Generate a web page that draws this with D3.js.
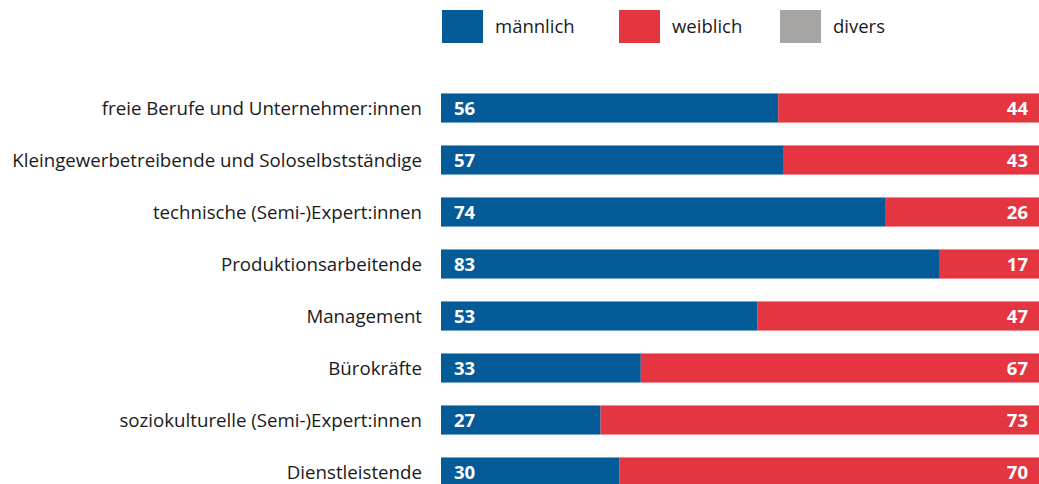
<!DOCTYPE html>
<html>
<head>
<meta charset="utf-8">
<script src="https://cdn.jsdelivr.net/npm/d3@7"></script>
<style>
  body { margin: 0; background: #fff; }
  svg { display: block; }
</style>
</head>
<body>
<div id="chart"></div>
<script>
var categories = [
  "freie Berufe und Unternehmer:innen",
  "Kleingewerbetreibende und Soloselbstständige",
  "technische (Semi-)Expert:innen",
  "Produktionsarbeitende",
  "Management",
  "Bürokräfte",
  "soziokulturelle (Semi-)Expert:innen",
  "Dienstleistende"
];
// shares in % (labels are rounded)
var maennlich = [56.2, 57, 74, 83, 52.7, 33.3, 26.6, 29.7];
var weiblich = [43.8, 43, 26, 17, 47.3, 66.7, 73.4, 70.3];
var divers = [0, 0, 0, 0, 0, 0, 0, 0];
var seriesNames = ["männlich", "weiblich", "divers"];

var colors = ["#045b98", "#e53540", "#a6a5a4"];
var W = 1039, H = 484;
var font = "'Open Sans', 'Noto Sans', sans-serif";

var svg = d3.select("#chart").append("svg")
  .attr("width", W)
  .attr("height", H);

var x = d3.scaleLinear().domain([0, 100]).range([441, 1041]);
var y = d3.scaleBand().domain(categories).range([82, 498]).paddingInner(0.44).paddingOuter(0.22);

// stacked data
var rows = categories.map(function(c, i) {
  return { cat: c, m: maennlich[i], w: weiblich[i], d: divers[i] };
});
var stack = d3.stack().keys(["m", "w", "d"]);
var layers = stack(rows);

var g = svg.append("g");
g.selectAll("g.layer")
  .data(layers)
  .enter()
  .append("g")
  .attr("fill", function(d, i) { return colors[i]; })
  .selectAll("rect")
  .data(function(d) { return d; })
  .enter()
  .append("rect")
  .attr("x", function(d) { return x(d[0]); })
  .attr("y", function(d) { return y(d.data.cat); })
  .attr("width", function(d) { return x(d[1]) - x(d[0]); })
  .attr("height", y.bandwidth());

// category labels
g.selectAll("text.cat")
  .data(categories)
  .enter()
  .append("text")
  .attr("class", "cat")
  .attr("x", 422)
  .attr("y", function(d) { return y(d) + y.bandwidth() / 2; })
  .attr("dy", "0.35em")
  .attr("text-anchor", "end")
  .attr("font-family", font)
  .attr("font-size", "18.7px")
  .attr("fill", "#1a1a1a")
  .text(function(d) { return d; });

// value labels
g.selectAll("text.vm")
  .data(rows)
  .enter()
  .append("text")
  .attr("x", x(0) + 13)
  .attr("y", function(d) { return y(d.cat) + y.bandwidth() / 2; })
  .attr("dy", "0.36em")
  .attr("font-family", font)
  .attr("font-weight", "bold")
  .attr("font-size", "18.5px")
  .attr("fill", "#fff")
  .text(function(d) { return Math.round(d.m); });

g.selectAll("text.vw")
  .data(rows)
  .enter()
  .append("text")
  .attr("x", 1028)
  .attr("y", function(d) { return y(d.cat) + y.bandwidth() / 2; })
  .attr("dy", "0.36em")
  .attr("text-anchor", "end")
  .attr("font-family", font)
  .attr("font-weight", "bold")
  .attr("font-size", "18.5px")
  .attr("fill", "#fff")
  .text(function(d) { return Math.round(d.w); });

// legend
var legX = [442, 619, 780];
var leg = svg.selectAll("g.leg")
  .data(seriesNames)
  .enter()
  .append("g")
  .attr("transform", function(d, i) { return "translate(" + legX[i] + ",10)"; });
leg.append("rect")
  .attr("width", 41)
  .attr("height", 33)
  .attr("fill", function(d, i) { return colors[i]; });
leg.append("text")
  .attr("x", 53)
  .attr("y", 17)
  .attr("dy", "0.35em")
  .attr("font-family", font)
  .attr("font-size", "18.5px")
  .attr("fill", "#1a1a1a")
  .text(function(d) { return d; });
</script>
</body>
</html>
